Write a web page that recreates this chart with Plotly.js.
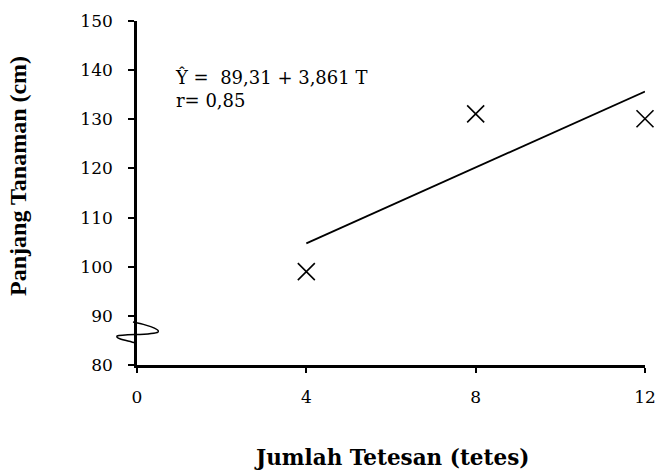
<!DOCTYPE html>
<html>
<head>
<meta charset="utf-8">
<script src="https://cdn.plot.ly/plotly-3.0.1.min.js"></script>
<style>html,body{margin:0;padding:0;background:#fff;}#chart{width:658px;height:476px;}</style>
</head>
<body>
<div id="chart"></div>
<script>
// Observed data
const tetesan = [4, 8, 12];
const panjang = [99, 131.1, 130.1];
// Regression line endpoints (Ŷ = 89,31 + 3,861 T)
const lineX = [4, 12];
const lineY = [104.75, 135.64];
const xTicks = [0, 4, 8, 12];
const yTicks = [80, 90, 100, 110, 120, 130, 140, 150];
const eqText = 'Ŷ =  89,31 + 3,861 T<br>r= 0,85';

const wide = 'DejaVu Serif';
const serif = 'Liberation Serif';

const data = [
  {x: lineX, y: lineY, mode: 'lines', type: 'scatter',
   line: {color: '#000', width: 1.8}, hoverinfo: 'skip', cliponaxis: false},
  {x: tetesan, y: panjang, mode: 'markers', type: 'scatter',
   marker: {symbol: 'x-thin', size: 17, color: '#000', line: {color: '#000', width: 1.6}},
   cliponaxis: false}
];

const layout = {
  width: 658, height: 476,
  margin: {l: 137, r: 13, t: 21, b: 111},
  paper_bgcolor: '#fff', plot_bgcolor: '#fff',
  showlegend: false,
  font: {family: wide, color: '#000', size: 17},
  xaxis: {
    range: [0, 12], tickvals: xTicks, ticktext: xTicks.map(String),
    showgrid: false, zeroline: false,
    showline: true, linecolor: '#000', linewidth: 2.6,
    ticks: 'outside', ticklen: 5, tickwidth: 2, tickcolor: '#000',
    ticklabelstandoff: 10,
    tickfont: {family: wide, size: 17, color: '#000'},
    title: {text: ''}
  },
  yaxis: {
    range: [80, 150], tickvals: yTicks, ticktext: yTicks.map(String),
    showgrid: false, zeroline: false,
    showline: true, linecolor: '#000', linewidth: 2.6,
    ticks: 'outside', ticklen: 6, tickwidth: 2, tickcolor: '#000',
    ticklabelstandoff: 12,
    tickfont: {family: wide, size: 17, color: '#000'},
    title: {text: ''}
  },
  annotations: [
    {text: '<b>Jumlah Tetesan (tetes)</b>', xref: 'paper', yref: 'paper',
     x: 0.5, y: -0.27, xanchor: 'center', yanchor: 'middle', showarrow: false,
     font: {family: wide, size: 21.5, color: '#000'}},
    {text: '<b>Panjang Tanaman (cm)</b>', xref: 'paper', yref: 'paper',
     x: -0.234, y: 0.55, xanchor: 'center', yanchor: 'middle', textangle: -90, showarrow: false,
     font: {family: serif, size: 24, color: '#000'}},
    {text: eqText, xref: 'x', yref: 'y', x: 0.85, y: 141.2, xanchor: 'left', yanchor: 'top',
     align: 'left', showarrow: false,
     font: {family: wide, size: 18, color: '#000'}}
  ],
  shapes: [
    {type: 'path', xref: 'paper', yref: 'paper', xsizemode: 'pixel', ysizemode: 'pixel',
     xanchor: 0, yanchor: 0.0929,
     path: 'M -4,11 C 7,9 24,4 21,1 C 17,-2 -15,-1 -20,-3 C -22,-6 -7,-8 -2,-10',
     line: {color: '#000', width: 1.5}, fillcolor: 'rgba(0,0,0,0)'}
  ]
};

Plotly.newPlot('chart', data, layout, {displayModeBar: false});
</script>
</body>
</html>
